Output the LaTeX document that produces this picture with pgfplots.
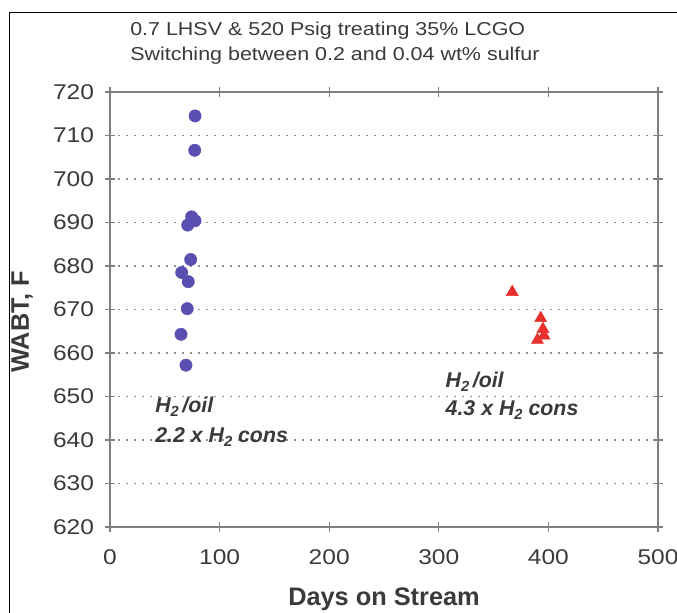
\documentclass[border=0pt]{standalone}
\usepackage{pgfplots}
\pgfplotsset{compat=1.18}
\usepackage{fontspec}
\setmainfont{Liberation Sans}
\newfontfamily\stretchfont[FakeStretch=1.15]{Liberation Sans}
\definecolor{circblue}{HTML}{5A4FB0}
\definecolor{trired}{HTML}{E8302C}
\definecolor{txt}{HTML}{3A3A3A}
\definecolor{axgray}{HTML}{808080}
\definecolor{gridgray}{HTML}{909090}
\begin{document}
\begin{tikzpicture}[x=1pt,y=1pt]
\useasboundingbox (-82.5,-63.75) rectangle (425.25,395.25);
\draw[black, line width=1.1pt] (-75.5,-70) -- (-75.5,386) -- (430,386);
\begin{axis}[
  at={(0,0)}, anchor=south west,
  width=411pt, height=326.25pt, scale only axis,
  xmin=0, xmax=500, ymin=620, ymax=720,
  xtick={0,100,...,500}, ytick={620,630,...,720},
  axis line style={axgray, line width=1pt},
  tick style={axgray, line width=1pt},
  tick align=center, major tick length=7pt,
  ymajorgrids, grid style={gridgray, line width=1.2pt, dash pattern=on 1.5pt off 4.5pt},
  /pgf/number format/assume math mode=true,
  /pgf/number format/1000 sep={},
  tick label style={font=\stretchfont\fontsize{16}{18}\selectfont, text=txt},
  yticklabel style={xshift=-5pt},
  xticklabel style={yshift=-10pt},
  clip=false,
]
\addplot[only marks, mark=*, mark size=4.6pt, mark options={fill=circblue, draw=circblue}] coordinates {
(77.6,714.5) (77.3,706.6) (74.5,691.3) (77.6,690.4) (70.9,689.4) (73.6,681.5)
(65.4,678.5) (71.4,676.4) (70.5,670.2) (64.8,664.3) (69.3,657.2)
};
\addplot[only marks, mark=triangle*, mark size=5.2pt, mark options={fill=trired, draw=trired}] coordinates {
(367,674) (393,668) (395,665.5) (396,664) (390,663)
};
\node[anchor=base west, font=\fontsize{16}{18}\selectfont\bfseries\itshape, text=txt] at (axis cs:37,646.4) {H\raisebox{-0.35ex}{\fontsize{11}{12}\selectfont 2}\,/oil};
\node[anchor=base west, font=\fontsize{16}{18}\selectfont\bfseries\itshape, text=txt] at (axis cs:37,639.5) {2.2 x H\raisebox{-0.35ex}{\fontsize{11}{12}\selectfont 2} cons};
\node[anchor=base west, font=\fontsize{16}{18}\selectfont\bfseries\itshape, text=txt] at (axis cs:302,652.1) {H\raisebox{-0.35ex}{\fontsize{11}{12}\selectfont 2}\,/oil};
\node[anchor=base west, font=\fontsize{16}{18}\selectfont\bfseries\itshape, text=txt] at (axis cs:302,645.7) {4.3 x H\raisebox{-0.35ex}{\fontsize{11}{12}\selectfont 2} cons};
\end{axis}
\node[anchor=base west, inner sep=0pt, font=\stretchfont\fontsize{14}{16}\selectfont, text=txt] at (15,369) {0.7 LHSV \& 520 Psig treating 35\% LCGO};
\node[anchor=base west, inner sep=0pt, font=\stretchfont\fontsize{14}{16}\selectfont, text=txt] at (15,350.25) {Switching between 0.2 and 0.04 wt\% sulfur};
\node[font=\fontsize{19}{21}\selectfont\bfseries, text=txt] at (205.5,-54) {Days on Stream};
\node[rotate=90, font=\fontsize{19}{21}\selectfont\bfseries, text=txt] at (-66,153.75) {WABT, F};
\end{tikzpicture}
\end{document}
